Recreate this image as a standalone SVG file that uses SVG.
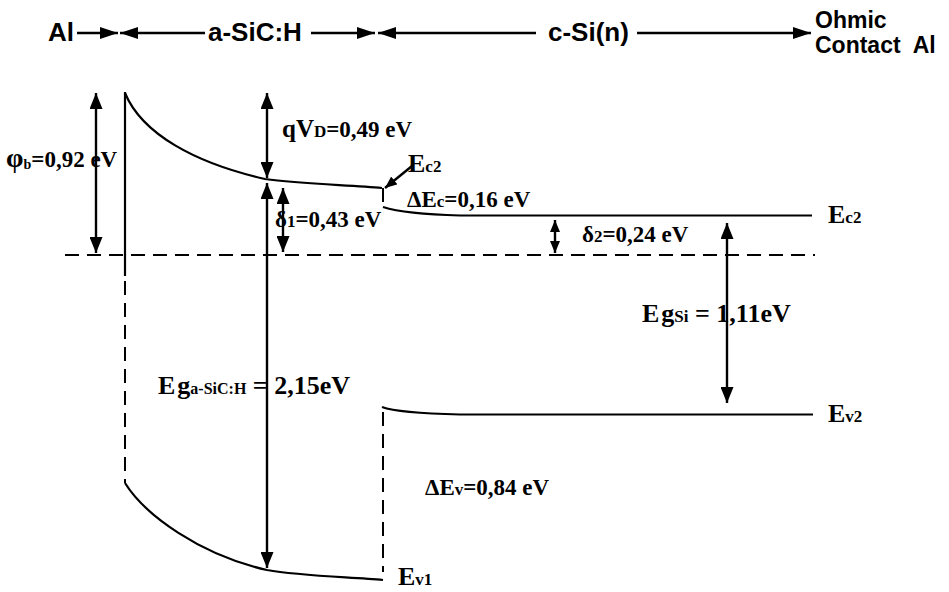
<svg xmlns="http://www.w3.org/2000/svg" width="949" height="592" viewBox="0 0 949 592">
<style>
.hd{font-family:"Liberation Sans",Arial,sans-serif;font-weight:bold;fill:#000}
.lb{font-family:"Liberation Serif","Times New Roman",serif;font-weight:bold;fill:#000;font-size:23px}
.big{font-size:26px}
.sm{font-size:17px}
.ln{fill:none;stroke:#000;stroke-width:2.2}
.dash{fill:none;stroke:#000;stroke-width:2;stroke-dasharray:14 8}
.ar{fill:none;stroke:#000;stroke-width:2.4}
</style>
<defs>
<marker id="ht" viewBox="0 0 18 12" refX="18" refY="6" markerWidth="18" markerHeight="12" orient="auto-start-reverse" markerUnits="userSpaceOnUse"><path d="M0,0 L18,6 L0,12 z" fill="#000"/></marker>
<marker id="ha" viewBox="0 0 16 13" refX="16" refY="6.5" markerWidth="16" markerHeight="13" orient="auto-start-reverse" markerUnits="userSpaceOnUse"><path d="M0,0 L16,6.5 L0,13 z" fill="#000"/></marker>
<marker id="hs" viewBox="0 0 12 10" refX="12" refY="5" markerWidth="12" markerHeight="10" orient="auto-start-reverse" markerUnits="userSpaceOnUse"><path d="M0,0 L12,5 L0,10 z" fill="#000"/></marker>
</defs>
<rect width="949" height="592" fill="#fff"/>

<g id="header">
<text class="hd" x="48" y="41" font-size="26">Al</text>
<text class="hd" x="208" y="41" font-size="26">a-SiC:H</text>
<text class="hd" x="548" y="41" font-size="26">c-Si(n)</text>
<text class="hd" x="815" y="28" font-size="23">Ohmic</text>
<text class="hd" x="815" y="53" font-size="23">Contact<tspan dx="12">Al</tspan></text>
</g>

<g id="bands">
<line class="ln" x1="125" y1="92" x2="125" y2="276"/>
<line class="dash" x1="125" y1="281" x2="125" y2="483"/>
<path class="ln" d="M125,93 C142,134 195,163 265,179 C300,184 350,185 382,188"/>
<line class="dash" x1="383" y1="188" x2="383" y2="208" stroke-dasharray="6 4"/>
<path class="ln" d="M383,207 Q405,214 460,215.5 L812,215.5"/>
<path class="ln" d="M125,483 C145,515 200,555 267,570 C300,576 350,577 383,580"/>
<line class="dash" x1="383" y1="412" x2="383" y2="572" stroke-dasharray="16 7"/>
<path class="ln" d="M382,407 Q398,413 460,414.5 L813,414.5"/>
<line class="dash" x1="65" y1="255" x2="815" y2="255"/>
</g>

<g id="connectors">
<path class="ar" d="M77,33 L118,33" marker-end="url(#ht)"/>
<path class="ar" d="M120,33 L205,33" marker-start="url(#ht)"/>
<path class="ar" d="M311,33 L375,33" marker-end="url(#ht)"/>
<path class="ar" d="M378,33 L536,33" marker-start="url(#ht)"/>
<path class="ar" d="M637,33 L811,33" marker-end="url(#ht)"/>
<path class="ar" d="M96,93 L96,253" marker-start="url(#ha)" marker-end="url(#ha)"/>
<path class="ar" d="M267,93 L267,178" marker-start="url(#ha)" marker-end="url(#ha)"/>
<path class="ar" d="M267,183 L267,568" marker-start="url(#ha)" marker-end="url(#ha)"/>
<path class="ar" d="M283,188 L283,252" marker-start="url(#ha)" marker-end="url(#ha)"/>
<path class="ar" d="M412,166 L385,188" marker-end="url(#hs)" stroke-width="3"/>
<path class="ar" d="M555,220 L555,253" marker-start="url(#hs)" marker-end="url(#hs)"/>
<path class="ar" d="M727,223 L727,403" marker-start="url(#ha)" marker-end="url(#ha)"/>
</g>

<g id="labels">
<text class="lb" x="6" y="167"><tspan font-size="28">φ</tspan><tspan font-size="14" dy="2">b</tspan><tspan dy="-2">=0,92 eV</tspan></text>
<text class="lb" x="282" y="137"><tspan font-size="25">qV</tspan><tspan class="sm">D</tspan>=0,49 eV</text>
<text class="lb" x="275" y="227">δ<tspan class="sm">1</tspan>=0,43 eV</text>
<text class="lb big" x="408" y="172">E<tspan class="sm">c2</tspan></text>
<text class="lb" x="407" y="207">ΔE<tspan class="sm">c</tspan>=0,16 eV</text>
<text class="lb" x="582" y="242">δ<tspan class="sm">2</tspan>=0,24 eV</text>
<text class="lb big" x="828" y="223">E<tspan class="sm">c2</tspan></text>
<text class="lb big" x="642" y="322">E<tspan dx="2">g</tspan><tspan font-size="17">Si</tspan> = 1,11eV</text>
<text class="lb big" x="158" y="394">E<tspan dx="2">g</tspan><tspan font-size="16">a-SiC:H</tspan> = 2,15eV</text>
<text class="lb big" x="828" y="422">E<tspan class="sm">v2</tspan></text>
<text class="lb" x="425" y="495">ΔE<tspan class="sm">v</tspan>=0,84 eV</text>
<text class="lb big" x="398" y="585">E<tspan class="sm">v1</tspan></text>
</g>
</svg>
